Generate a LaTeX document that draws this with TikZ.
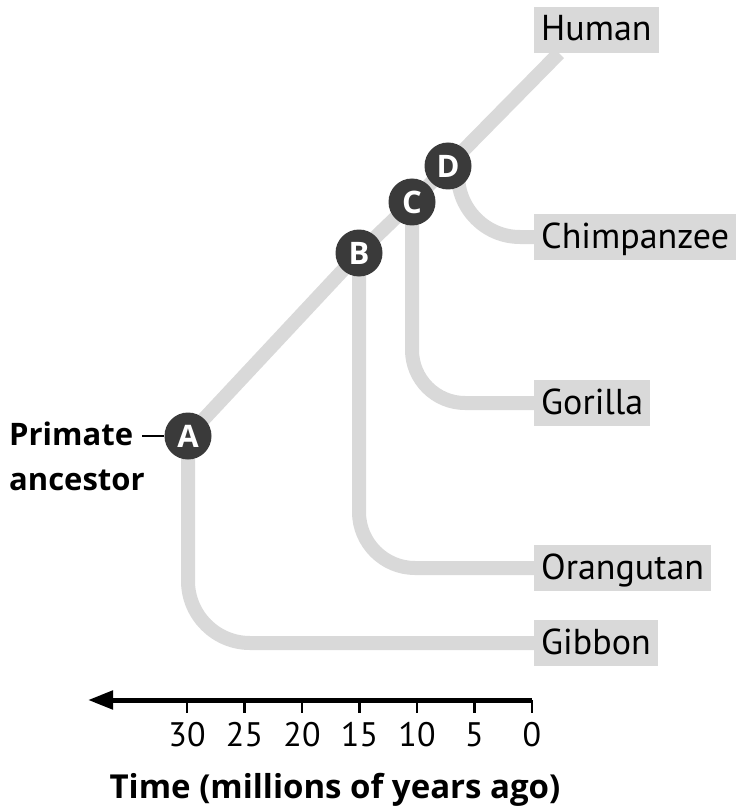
\documentclass[tikz,border=0pt]{standalone}
\usepackage{fontspec}
\setmainfont{PT Sans}
\newfontfamily\heavyfont{Open Sans}
\usepackage{tikz}
\usetikzlibrary{arrows.meta}
\usetikzlibrary{backgrounds}
\usetikzlibrary{positioning}
\usepackage{xcolor}
\definecolor{branchgray}{HTML}{D9D9D9}
\definecolor{splitgray}{HTML}{3A3A3A}

\begin{document}
\begin{tikzpicture}[x=1pt,y=-1pt,
    split/.style={circle, fill=splitgray, text=white, minimum size=47pt, inner sep=0pt,
      font=\heavyfont\fontsize{31}{31}\selectfont\bfseries},
    taxon/.style={anchor=west, fill=branchgray, minimum height=46pt, inner xsep=7pt,
      inner ysep=6pt, text height=28pt, text depth=6pt, font=\fontsize{36}{40}\selectfont},
    branch/.style={draw=branchgray, line width=14pt},
  ]
  \useasboundingbox (0,0) rectangle (740,810);

  % split points
  \node[split] (A) at (188,436) {A};
  \node[split] (B) at (359,253) {B};
  \node[split] (C) at (412,202) {C};
  \node[split] (D) at (448,166) {D};

  % living species
  \node[taxon] (human) at (534,30) {Human};
  \node[taxon] (chimp) at (534,237) {Chimpanzee};
  \node[taxon] (gorilla) at (534,403) {Gorilla};
  \node[taxon] (orang) at (534,568) {Orangutan};
  \node[taxon] (gibbon) at (534,643) {Gibbon};

  \node[anchor=base west, align=left, inner sep=0pt,
    font=\heavyfont\fontsize{31}{45}\selectfont\bfseries] (anc) at (9,490) {Primate\\ancestor};
  \coordinate (lead) at (142,436);
  \draw[line width=2pt] (A) -- (lead);

  \begin{scope}[on background layer]
    \draw[branch] (A.center) -- (B.center) -- (C.center) -- (D.center)
      -- ([xshift=25pt]human.south west);
    \draw[branch, rounded corners=62pt] (A.center) |- (gibbon.west);
    \draw[branch, rounded corners=56pt] (B.center) |- (orang.west);
    \draw[branch, rounded corners=53pt] (C.center) |- (gorilla.west);
    \draw[branch, rounded corners=62pt] ([xshift=10pt]D.center) |- (chimp.west);
  \end{scope}

  % time axis
  \coordinate (now) at (532,700);
  \coordinate (past) at (88,700);
  \draw[line width=5pt, -{Triangle[length=25pt, width=18pt]}] (now) -- (past);
  \foreach \t in {0,5,...,30} {
    \draw[line width=2.5pt] (532-11.5*\t,700) -- ++(0,13);
    \node[anchor=base, font=\fontsize{34}{36}\selectfont] (tick\t) at (532-11.5*\t,746) {\t};
  }
  \node[anchor=base, font=\heavyfont\fontsize{33}{38}\selectfont\bfseries] (title) at (335,798)
    {Time (millions of years ago)};
\end{tikzpicture}
\end{document}
